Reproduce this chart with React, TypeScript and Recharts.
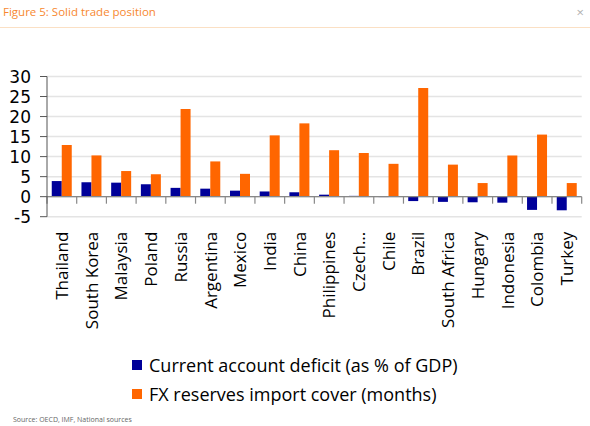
import React from "react"
import { BarChart, Bar, XAxis, YAxis, CartesianGrid, ReferenceLine } from "recharts"

const COUNTRIES = [
  "Thailand", "South Korea", "Malaysia", "Poland", "Russia", "Argentina",
  "Mexico", "India", "China", "Philippines", "Czech...", "Chile",
  "Brazil", "South Africa", "Hungary", "Indonesia", "Colombia", "Turkey",
]
const CA_DEFICIT = [3.9, 3.6, 3.5, 3.1, 2.2, 2.0, 1.5, 1.3, 1.1, 0.5, 0.2, -0.1, -1.1, -1.3, -1.4, -1.5, -3.3, -3.4]
const FX_COVER = [12.9, 10.3, 6.4, 5.6, 21.9, 8.8, 5.7, 15.3, 18.3, 11.6, 10.9, 8.2, 27.1, 8.0, 3.4, 10.3, 15.5, 3.4]
const Y_TICKS = [-5, 0, 5, 10, 15, 20, 25, 30]

const SERIES = [
  { key: "ca", name: "Current account deficit (as % of GDP)", color: "#000099" },
  { key: "fx", name: "FX reserves import cover (months)", color: "#ff6600" },
]

const data = COUNTRIES.map((country, i) => ({ country, ca: CA_DEFICIT[i], fx: FX_COVER[i] }))

const FONT = "'Open Sans', sans-serif"

function CountryTick(props: any) {
  const { x, y, payload } = props
  return (
    <g transform={`translate(${x},${y + 15})`}>
      <text transform="rotate(-90)" textAnchor="end" dy="0.36em" fontSize={17} fill="#000" fontFamily={FONT}>
        {payload.value}
      </text>
    </g>
  )
}

export default function App() {
  const last = COUNTRIES.length - 1
  return (
    <div style={{ position: "absolute", left: 0, top: 0, width: 590, height: 426, background: "#fff", fontFamily: FONT }}>
      <div style={{ position: "absolute", left: 3, top: 4, fontSize: 11.5, color: "#f7882f", whiteSpace: "nowrap" }}>
        Figure 5: Solid trade position
      </div>
      <div style={{ position: "absolute", right: 6, top: 3, fontSize: 13, color: "#b0b0b0" }}>×</div>
      <div style={{ position: "absolute", left: 0, top: 27, width: 590, height: 1, background: "#fbe0c4" }} />

      <BarChart
        width={590}
        height={330}
        data={data}
        margin={{ top: 76.5, right: 8.3, left: 0, bottom: 0 }}
        barCategoryGap="16%"
        barGap={0}
      >
        <CartesianGrid vertical={false} stroke="#e4e4e4" strokeWidth={1.5} />
        <XAxis
          dataKey="country"
          interval={0}
          height={113.3}
          axisLine={false}
          tickLine={false}
          tickSize={0}
          tickMargin={0}
          tick={<CountryTick />}
        />
        <YAxis
          domain={[-5, 30]}
          ticks={Y_TICKS}
          interval={0}
          width={47}
          tickSize={7}
          tickMargin={9}
          axisLine={{ stroke: "#555" }}
          tickLine={{ stroke: "#555" }}
          tick={{ fontSize: 17, fill: "#000", fontFamily: "'DejaVu Sans', sans-serif" }}
        />
        {SERIES.map((s) => (
          <Bar key={s.key} dataKey={s.key} name={s.name} fill={s.color} isAnimationActive={false} />
        ))}
        <ReferenceLine y={0} stroke="#888" strokeWidth={1.2} />
        {/* small tick marks on the zero line, between categories */}
        {COUNTRIES.map((c) => (
          <ReferenceLine
            key={`b-${c}`}
            position="start"
            segment={[{ x: c, y: 0 }, { x: c, y: -1.75 }]}
            stroke="#888"
            strokeWidth={1.2}
          />
        ))}
        <ReferenceLine
          position="end"
          segment={[{ x: COUNTRIES[last], y: 0 }, { x: COUNTRIES[last], y: -1.75 }]}
          stroke="#888"
          strokeWidth={1.2}
        />
      </BarChart>

      <div style={{ position: "absolute", left: 132, top: 350 }}>
        {SERIES.map((s) => (
          <div key={s.key} style={{ display: "flex", alignItems: "center", height: 29, fontSize: 18, color: "#000", whiteSpace: "nowrap" }}>
            <span style={{ display: "inline-block", width: 10, height: 10, background: s.color, marginRight: 7 }} />
            {s.name}
          </div>
        ))}
      </div>

      <div style={{ position: "absolute", left: 13, top: 415, fontSize: 7, color: "#666", whiteSpace: "nowrap" }}>
        Source: OECD, IMF, National sources
      </div>
    </div>
  )
}
